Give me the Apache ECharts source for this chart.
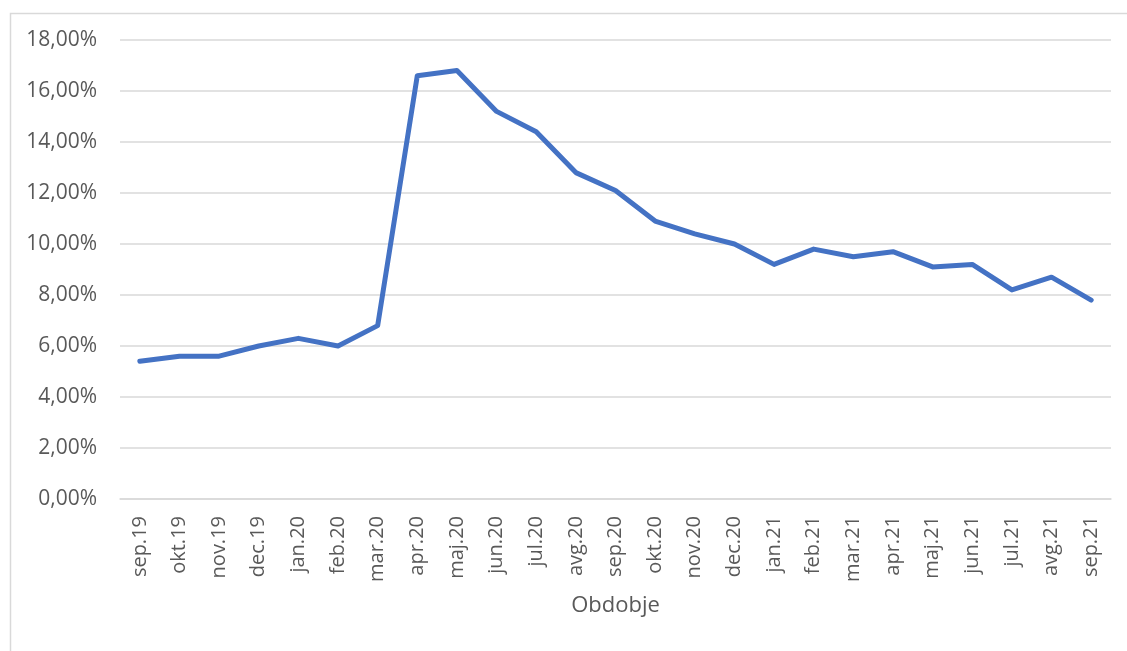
<!DOCTYPE html>
<html>
<head>
<meta charset="utf-8">
<title>Obdobje</title>
<script src="https://cdn.jsdelivr.net/npm/echarts@6/dist/echarts.min.js"></script>
<style>
  html, body { margin: 0; padding: 0; background: #ffffff; }
  #chart { width: 1127px; height: 651px; }
</style>
</head>
<body>
<div id="chart"></div>
<script>
// Monthly periods (Slovenian month abbreviations)
const months = [
  'sep.19', 'okt.19', 'nov.19', 'dec.19', 'jan.20', 'feb.20', 'mar.20',
  'apr.20', 'maj.20', 'jun.20', 'jul.20', 'avg.20', 'sep.20', 'okt.20',
  'nov.20', 'dec.20', 'jan.21', 'feb.21', 'mar.21', 'apr.21', 'maj.21',
  'jun.21', 'jul.21', 'avg.21', 'sep.21'
];

// Share per month, in percent
const shares = [
  5.4, 5.6, 5.6, 6.0, 6.3, 6.0, 6.8,
  16.6, 16.8, 15.2, 14.4, 12.8, 12.1, 10.9,
  10.4, 10.0, 9.2, 9.8, 9.5, 9.7, 9.1,
  9.2, 8.2, 8.7, 7.8
];

// Value axis range and step, in percent
const yMin = 0;
const yMax = 18;
const yStep = 2;

const xAxisTitle = 'Obdobje';

const fontFamily = '"Open Sans", "DejaVu Sans", sans-serif';
const textColor = '#595959';

const chart = echarts.init(document.getElementById('chart'), null, { renderer: 'canvas' });

chart.setOption({
  animation: false,
  backgroundColor: '#ffffff',
  textStyle: { fontFamily: fontFamily },
  graphic: [{
    type: 'rect',
    left: 8,
    top: 11,
    shape: { width: 1200, height: 700 },
    style: { fill: 'none', stroke: '#d9d9d9', lineWidth: 1.5 },
    silent: true,
    z: -10
  }],
  grid: {
    left: 120,
    right: 16,
    top: 40,
    bottom: 152
  },
  xAxis: {
    type: 'category',
    data: months,
    boundaryGap: true,
    name: xAxisTitle,
    nameLocation: 'middle',
    nameGap: 96,
    nameTextStyle: {
      fontSize: 22,
      color: textColor,
      fontFamily: fontFamily
    },
    axisLine: { show: true, lineStyle: { color: '#d9d9d9', width: 1.5 } },
    axisTick: { show: false },
    axisLabel: {
      rotate: 90,
      margin: 17,
      fontSize: 20,
      color: textColor,
      fontFamily: fontFamily,
      interval: 0
    },
    splitLine: { show: false }
  },
  yAxis: {
    type: 'value',
    min: yMin,
    max: yMax,
    interval: yStep,
    axisLine: { show: false },
    axisTick: { show: false },
    axisLabel: {
      margin: 23,
      fontSize: 21,
      color: textColor,
      fontFamily: fontFamily,
      formatter: function (v) {
        return v.toFixed(2).replace('.', ',') + '%';
      }
    },
    splitLine: { show: true, lineStyle: { color: '#d9d9d9', width: 1.5 } }
  },
  series: [{
    type: 'line',
    data: shares,
    showSymbol: false,
    symbol: 'none',
    smooth: false,
    lineStyle: { color: '#4472C4', width: 5, cap: 'round', join: 'round' },
    itemStyle: { color: '#4472C4' },
    z: 5
  }]
});
</script>
</body>
</html>
